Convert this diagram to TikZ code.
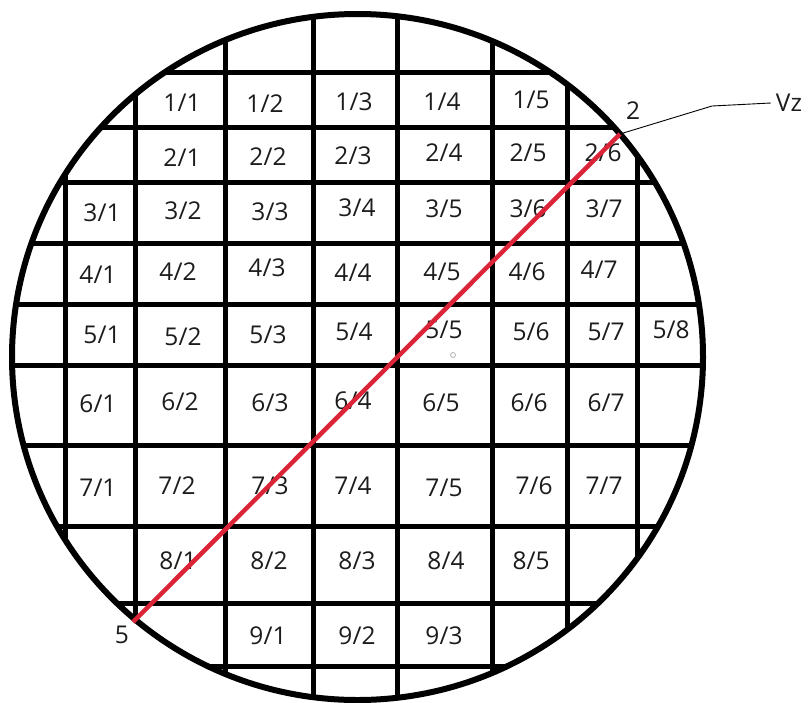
\documentclass[tikz,border=0pt]{standalone}
\usepackage{fontspec}
\setmainfont{Open Sans}
\definecolor{redline}{RGB}{218,36,56}
\definecolor{txt}{RGB}{28,28,28}
\begin{document}
\begin{tikzpicture}[x=1pt,y=-1pt,
  gridline/.style={line width=5pt},
  rim/.style={line width=6pt},
  lab/.style={font=\fontsize{24.5}{24.5}\selectfont, text=txt, inner sep=0pt},
  cut/.style={line width=4.5pt, draw=redline},
  leader/.style={line width=0.9pt}]
\useasboundingbox (0,0) rectangle (808,702);
\coordinate (c) at (357.5,357);
\begin{scope}
  \clip (c) ellipse [x radius=345.5, y radius=343];
  \foreach \x in {65,135,225,313,397,492,567,637}
    \draw[gridline] (\x,0) -- (\x,702);
  \foreach \y in {72,127,182,243,304,365,445,526,603,666}
    \draw[gridline] (0,\y) -- (808,\y);
\end{scope}
\draw[rim] (c) ellipse [x radius=345.5, y radius=343];
% labels
\node[lab] (n11) at (182,103) {1/1};
\node[lab] (n12) at (265,104) {1/2};
\node[lab] (n13) at (354,102) {1/3};
\node[lab] (n14) at (442,102) {1/4};
\node[lab] (n15) at (531,100) {1/5};
\node[lab] (n21) at (182,158) {2/1};
\node[lab] (n22) at (268,157) {2/2};
\node[lab] (n23) at (353,156) {2/3};
\node[lab] (n24) at (444,153) {2/4};
\node[lab] (n25) at (528,153) {2/5};
\node[lab] (n26) at (603,153) {2/6};
\node[lab] (n31) at (102,213) {3/1};
\node[lab] (n32) at (183,211) {3/2};
\node[lab] (n33) at (270,212) {3/3};
\node[lab] (n34) at (357,208) {3/4};
\node[lab] (n35) at (444,209) {3/5};
\node[lab] (n36) at (528,209) {3/6};
\node[lab] (n37) at (604,209) {3/7};
\node[lab] (n41) at (98,275) {4/1};
\node[lab] (n42) at (178,272) {4/2};
\node[lab] (n43) at (267,268) {4/3};
\node[lab] (n44) at (353,273) {4/4};
\node[lab] (n45) at (442,272) {4/5};
\node[lab] (n46) at (527,272) {4/6};
\node[lab] (n47) at (599,270) {4/7};
\node[lab] (n51) at (102,335) {5/1};
\node[lab] (n52) at (183,337) {5/2};
\node[lab] (n53) at (268,335) {5/3};
\node[lab] (n54) at (354,332) {5/4};
\node[lab] (n55) at (444,330) {5/5};
\node[lab] (n56) at (531,332) {5/6};
\node[lab] (n57) at (606,332) {5/7};
\node[lab] (n58) at (671,330) {5/8};
\node[lab] (n61) at (98,404) {6/1};
\node[lab] (n62) at (180,402) {6/2};
\node[lab] (n63) at (270,403) {6/3};
\node[lab] (n64) at (353,401) {6/4};
\node[lab] (n65) at (441,403) {6/5};
\node[lab] (n66) at (529,403) {6/6};
\node[lab] (n67) at (606,403) {6/7};
\node[lab] (n71) at (98,488) {7/1};
\node[lab] (n72) at (177,486) {7/2};
\node[lab] (n73) at (270,486) {7/3};
\node[lab] (n74) at (353,486) {7/4};
\node[lab] (n75) at (444,488) {7/5};
\node[lab] (n76) at (534,486) {7/6};
\node[lab] (n77) at (604,486) {7/7};
\node[lab] (n81) at (178,561) {8/1};
\node[lab] (n82) at (269,561) {8/2};
\node[lab] (n83) at (357,561) {8/3};
\node[lab] (n84) at (446,561) {8/4};
\node[lab] (n85) at (531,561) {8/5};
\node[lab] (n91) at (268,636) {9/1};
\node[lab] (n92) at (357,636) {9/2};
\node[lab] (n93) at (444,636) {9/3};
% small mark
\draw[gray!60, line width=0.8pt] (453,355) circle [radius=2.5];
% cut line and markers
\coordinate (p2) at (620,134);
\coordinate (p5) at (133,622);
\coordinate (bend) at (712,106);
\node[lab] (lab2) at (633,111) {2};
\node[lab] (lab5) at (122,635) {5};
\node[lab] (vz) at (789,103) {Vz};
\draw[cut] (p5) -- (p2);
\draw[leader] (p2) -- (bend) -- ([xshift=-5pt]vz.west);
\end{tikzpicture}
\end{document}
